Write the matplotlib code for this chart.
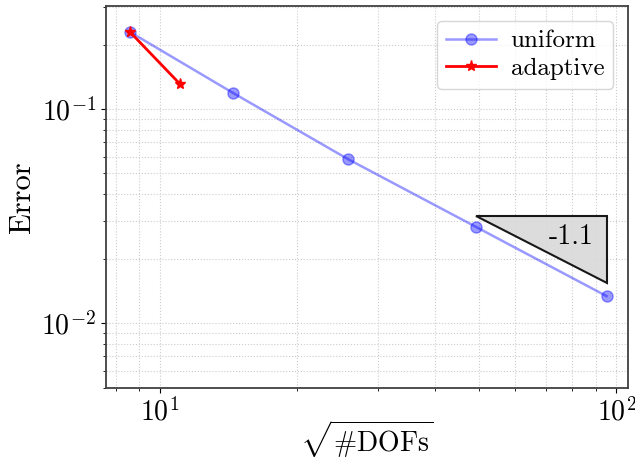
import numpy as np
from matplotlib import pyplot as plt

plt.rcParams['font.family'] = 'serif'
plt.rcParams['font.serif'] = ['cmr10']
plt.rcParams['mathtext.fontset'] = 'cm'
plt.rcParams['axes.formatter.use_mathtext'] = True

# data
dofs_uniform = [8.6, 14.45, 25.8, 49.3, 95.1]
err_uniform = [0.229, 0.119, 0.0584, 0.0281, 0.01337]
dofs_adaptive = [8.6, 11.06]
err_adaptive = [0.229, 0.131]
slope = -1.1

fig = plt.figure(figsize=(6.35, 4.62), dpi=100)
ax = fig.add_axes([0.167, 0.160, 0.822, 0.827])

ax.loglog(dofs_uniform, err_uniform, color='blue', alpha=0.4, marker='o',
          markersize=8, linewidth=1.8, label='uniform')
ax.loglog(dofs_adaptive, err_adaptive, color='red', marker='*',
          markersize=8, linewidth=2, label='adaptive')

# slope triangle above the last segment
x0, x1 = dofs_uniform[-2], dofs_uniform[-1]
y0 = err_uniform[-2] * 1.125
y1 = y0 * (x1 / x0) ** slope
ax.fill([x0, x1, x1], [y0, y0, y1], facecolor='0.85', edgecolor='black',
        linewidth=1.5, alpha=0.9, zorder=3)
ax.text(np.sqrt(x0 * x1) * 1.16, y0 * 0.8, str(slope), fontsize=20,
        ha='center', va='center', zorder=4)

ax.set_xlim(7.62, 106)
ax.set_ylim(0.00497, 0.303)
ax.grid(True, which='both', linestyle=':', color='0.8', linewidth=0.8)
for s in ax.spines.values():
    s.set_linewidth(1.3)
    s.set_color('0.25')
ax.tick_params(labelsize=20)
ax.set_xlabel(r'$\sqrt{\#\mathrm{DOFs}}$', fontsize=20, labelpad=-6)
ax.set_ylabel('Error', fontsize=22)
ax.legend(loc='upper right', fontsize=18, borderaxespad=0.6,
          handletextpad=0.6, borderpad=0.35, labelspacing=0.2)

plt.savefig('out.png', dpi=100)
